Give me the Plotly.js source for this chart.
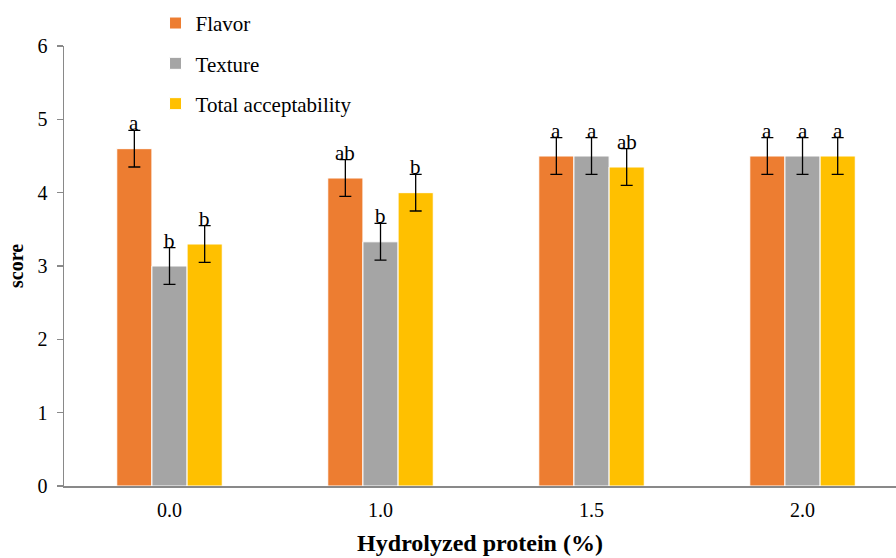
<!DOCTYPE html>
<html>
<head>
<meta charset="utf-8">
<script src="https://cdn.plot.ly/plotly-3.0.1.min.js"></script>
<style>html,body{margin:0;padding:0;background:#fff}#chart{width:896px;height:558px}</style>
</head>
<body>
<div id="chart"></div>
<script>
const categories = ["0.0", "1.0", "1.5", "2.0"];
const seriesNames = ["Flavor", "Texture", "Total acceptability"];
const flavor = [4.6, 4.2, 4.5, 4.5];
const texture = [3.0, 3.33, 4.5, 4.5];
const total = [3.3, 4.0, 4.35, 4.5];
const flavorErr = [0.25, 0.25, 0.25, 0.25];
const textureErr = [0.25, 0.25, 0.25, 0.25];
const totalErr = [0.25, 0.25, 0.25, 0.25];
const flavorLetters = ["a", "ab", "a", "a"];
const textureLetters = ["b", "b", "a", "a"];
const totalLetters = ["b", "b", "ab", "a"];
const yTicks = [0, 1, 2, 3, 4, 5, 6];

const colors = ["#ED7D31", "#A5A5A5", "#FFC000"];
const values = [flavor, texture, total];
const errs = [flavorErr, textureErr, totalErr];
const letters = [flavorLetters, textureLetters, totalLetters];
const font = "Liberation Serif, Times New Roman, serif";

const traces = values.map((v, i) => ({
  type: "bar",
  name: seriesNames[i],
  legendgroup: "g" + i,
  x: categories,
  y: v,
  marker: {color: colors[i], line: {color: "#ffffff", width: 1}},
  error_y: {type: "data", array: errs[i], visible: true, color: "#000000", thickness: 1.3, width: 6},
  hoverinfo: "skip"
}));

const bargap = 0.5;
const barW = (1 - bargap) / 3;
const annotations = [];
values.forEach((v, i) => {
  v.forEach((val, j) => {
    annotations.push({
      xref: "x", yref: "y",
      x: j + (i - 1) * barW,
      y: val + errs[i][j],
      text: letters[i][j],
      showarrow: false,
      yanchor: "bottom",
      yshift: -7,
      font: {family: font, size: 21, color: "#000"}
    });
  });
});

const layout = {
  width: 896, height: 558,
  margin: {l: 64, r: 0, t: 46, b: 72},
  paper_bgcolor: "#fff", plot_bgcolor: "#fff",
  barmode: "group",
  bargap: bargap,
  bargroupgap: 0,
  font: {family: font, color: "#000"},
  xaxis: {
    type: "category",
    range: [-0.5, 3.443],
    showline: true, linecolor: "#898989", linewidth: 2,
    ticks: "", showgrid: false, zeroline: false,
    tickfont: {family: font, size: 20, color: "#000"},
    ticklabelstandoff: 5,
    title: {text: "<b>Hydrolyzed protein (%)</b>", font: {family: font, size: 24, color: "#000"}, standoff: 14}
  },
  yaxis: {
    range: [0, 6],
    tickvals: yTicks,
    ticktext: yTicks.map(String),
    showline: true, linecolor: "#898989", linewidth: 1.5,
    ticks: "outside", ticklen: 6, tickcolor: "#898989", tickwidth: 1.5,
    showgrid: false, zeroline: false,
    tickfont: {family: font, size: 20, color: "#000"},
    ticklabelstandoff: 5,
    title: {text: "<b>score</b>", font: {family: font, size: 20, color: "#000"}, standoff: 8}
  },
  showlegend: true,
  legend: {
    x: 0.11, xanchor: "left",
    y: 1.098, yanchor: "top",
    bgcolor: "rgba(0,0,0,0)",
    tracegroupgap: 10,
    font: {family: font, size: 21, color: "#000"}
  },
  annotations: annotations
};

Plotly.newPlot("chart", traces, layout, {displayModeBar: false, staticPlot: true});
</script>
</body>
</html>
